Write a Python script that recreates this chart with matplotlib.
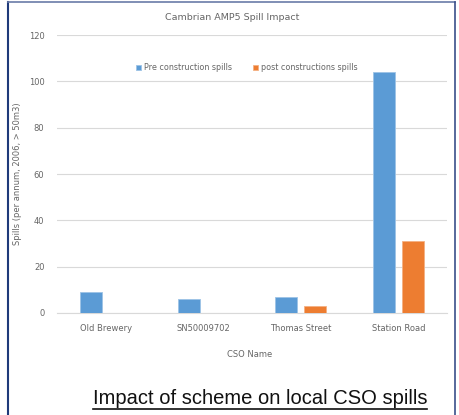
import matplotlib
matplotlib.use("Agg")
import matplotlib.pyplot as plt
import numpy as np
from matplotlib.lines import Line2D

categories = ["Old Brewery", "SN50009702", "Thomas Street", "Station Road"]
pre_spills = [9, 6, 7, 104]
post_spills = [0, 0, 3, 31]
series_names = ["Pre construction spills", "post constructions spills"]
yticks = [0, 20, 40, 60, 80, 100, 120]

W, H = 459, 415
fig = plt.figure(figsize=(W / 100, H / 100), dpi=100)
fig.patch.set_facecolor("white")

ax = fig.add_axes([57 / W, 1 - 313 / H, (447 - 57) / W, (313 - 35) / H])
x = np.arange(len(categories))
bw = 0.226
off = 0.149
ax.bar(x - off, pre_spills, bw, color="#5B9BD5", edgecolor="#9DC3E6", linewidth=0.6,
       label=series_names[0], zorder=3)
ax.bar(x + off, post_spills, bw, color="#ED7D31", edgecolor="#F4B183", linewidth=0.6,
       label=series_names[1], zorder=3)

ax.set_xlim(-0.5, 3.5)
ax.set_ylim(0, 120)
ax.set_yticks(yticks)
ax.set_xticks(x)
ax.set_xticklabels(categories)
ax.tick_params(axis="both", length=0, labelsize=6, labelcolor="#666666")
ax.tick_params(axis="y", pad=9)
ax.tick_params(axis="x", pad=8)
ax.grid(axis="y", color="#D9D9D9", linewidth=0.8, zorder=0)
for s in ["top", "right", "left"]:
    ax.spines[s].set_visible(False)
ax.spines["bottom"].set_color("#D9D9D9")
ax.spines["bottom"].set_linewidth(0.8)

ax.set_ylabel("Spills (per annum, 2006, > 50m3)", fontsize=6, color="#666666")
ax.yaxis.set_label_coords((22 - 57) / 390, 0.5)
ax.set_xlabel("CSO Name", fontsize=6, color="#666666")
ax.xaxis.set_label_coords((250 - 57) / 390, (313 - 350) / 278)

fig.text(232 / W, 1 - 17 / H, "Cambrian AMP5 Spill Impact", ha="center", va="center",
         fontsize=6.8, color="#666666")

leg = ax.legend(loc="center", bbox_to_anchor=(247 / W, 1 - 68 / H), bbox_transform=fig.transFigure,
                ncol=2, frameon=False, fontsize=5.8, handlelength=0.6, handleheight=0.6,
                handletextpad=0.4, columnspacing=2.6, labelcolor="#666666")

t = fig.text(260 / W, 1 - 398 / H, "Impact of scheme on local CSO spills", ha="center",
             va="center", fontsize=14.5, color="#111111", family="Liberation Sans")

fig.canvas.draw()
bb = t.get_window_extent(fig.canvas.get_renderer())
uy = (bb.y0 - 1) / H
fig.add_artist(Line2D([bb.x0 / W, bb.x1 / W], [uy, uy], transform=fig.transFigure,
                      color="#111111", linewidth=1.2))

navy = "#1F3A7A"
fig.add_artist(Line2D([8 / W, 8 / W], [0, 1 - 2 / H], transform=fig.transFigure, color=navy, linewidth=1.5))
fig.add_artist(Line2D([8 / W, 455 / W], [1 - 2 / H, 1 - 2 / H], transform=fig.transFigure, color="#6A7BA8", linewidth=1.2))
fig.add_artist(Line2D([455 / W, 455 / W], [0, 1 - 2 / H], transform=fig.transFigure, color="#3A4F8A", linewidth=1.2))

fig.savefig("out.png", dpi=100)
